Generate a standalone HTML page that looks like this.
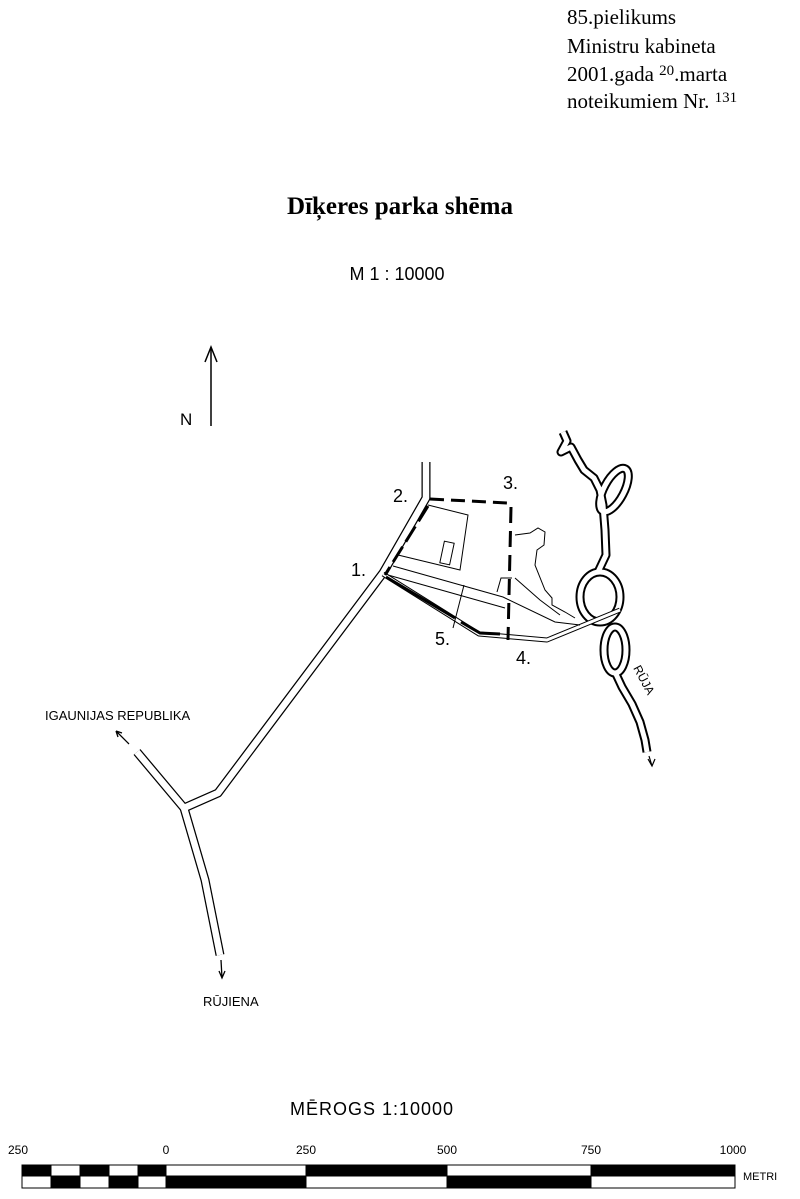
<!DOCTYPE html>
<html><head><meta charset="utf-8"><style>
html,body{margin:0;padding:0;background:#fff}
svg{display:block}
.s{font-family:"Liberation Serif",serif;fill:#000}
.a{font-family:"Liberation Sans","DejaVu Sans",sans-serif;fill:#000}
</style></head><body>
<svg width="800" height="1199" viewBox="0 0 800 1199" xmlns="http://www.w3.org/2000/svg">
<defs>
<g id="riv">
<path d="M563 432 L567 441 L561 452 L571 447 L578 460 L584 470 L594 478 L600 490 L603 505 L605 530 L606 555 L598 572"/>
<ellipse cx="614" cy="490" rx="10" ry="24" transform="rotate(28 614 490)"/>
<ellipse cx="600" cy="597" rx="20" ry="25"/>
<ellipse cx="615" cy="650" rx="11" ry="23"/>
<path d="M615 672 L622 687 L632 704 L640 722 L645 740 L647 752"/>
</g>
</defs>
<text class="s" x="567" y="24" font-size="21">85.pielikums</text>
<text class="s" x="567" y="53" font-size="21">Ministru kabineta</text>
<text class="s" x="567" y="81" font-size="21">2001.gada <tspan font-size="15" dy="-6">20</tspan><tspan dy="6">.marta</tspan></text>
<text class="s" x="567" y="108" font-size="21">noteikumiem Nr. <tspan font-size="15" dy="-6">131</tspan></text>
<text class="s" x="400" y="214" font-size="25" font-weight="bold" text-anchor="middle">Dīķeres parka shēma</text>
<text class="a" x="397" y="280" font-size="18" text-anchor="middle">M 1 : 10000</text>
<line x1="211" y1="348" x2="211" y2="426" stroke="#000" stroke-width="1.5"/>
<path d="M205 362 L211 347 L217 362" fill="none" stroke="#000" stroke-width="1.5"/>
<text class="a" x="180" y="425" font-size="17">N</text>
<g fill="none" stroke-linejoin="round">
<path d="M426 462 L426 498 L383 573 L218 793 L184 808 L137 752" stroke="#000" stroke-width="9"/>
<path d="M184 808 L205 880 L220 955" stroke="#000" stroke-width="9"/>
<path d="M426 462 L426 498 L383 573 L218 793 L184 808 L137 752" stroke="#fff" stroke-width="6.5"/>
<path d="M184 808 L205 880 L220 955" stroke="#fff" stroke-width="6.5"/>
</g>
<path d="M129 744 L116 731 M116 731 l2 6 M116 731 l6 2" stroke="#000" stroke-width="1.3" fill="none"/>
<path d="M221 960 L222 978 M219 971 L222 978 L225 971" stroke="#000" stroke-width="1.3" fill="none"/>
<use href="#riv" fill="none" stroke="#000" stroke-width="9" stroke-linejoin="round"/>
<use href="#riv" fill="none" stroke="#fff" stroke-width="5" stroke-linejoin="round"/>
<path d="M649 756 L652 766 M648 759 L652 766 L655 759" stroke="#000" stroke-width="1.2" fill="none"/>
<text class="a" x="633" y="668" font-size="12" transform="rotate(62 633 668)">RŪJA</text>
<g fill="none" stroke-linejoin="round">
<path d="M383 574 L479 634 L547 640 L620 610" stroke="#000" stroke-width="5"/>
<path d="M383 574 L479 634 L547 640 L620 610" stroke="#fff" stroke-width="3"/>
</g>
<g fill="none" stroke="#000" stroke-width="1">
<path d="M428 505 L468 515 L460 570 L398 555"/>
<path d="M393 566 L503 597 L555 622 L580 625"/>
<path d="M388 575 L505 608"/>
<path d="M464 585 L453 628"/>
<path d="M497 592 L501 578 L512 578"/>
<path d="M515 535 L530 533 L538 528 L545 532 L544 545 L537 550 L535 565 L545 590 L552 598 L552 605 L565 612 L575 618"/>
<path d="M515 578 L540 600 L560 615"/>
<rect x="442" y="542" width="10" height="22" transform="rotate(12 447 553)"/>
</g>
<g fill="none" stroke="#000" stroke-width="3">
<path d="M430 499 L508 503" stroke-dasharray="14 7"/>
<path d="M511 507 L508 640" stroke-dasharray="16 8"/>
<path d="M428 506 L385 575" stroke-dasharray="18 6"/>
<path d="M386 577 L455 618"/>
<path d="M461 622 L480 633 L500 634"/>
</g>
<g class="a" font-size="18">
<text x="393" y="502">2.</text>
<text x="503" y="489">3.</text>
<text x="351" y="576">1.</text>
<text x="435" y="645">5.</text>
<text x="516" y="664">4.</text>
</g>
<text class="a" x="45" y="720" font-size="13">IGAUNIJAS REPUBLIKA</text>
<text class="a" x="203" y="1006" font-size="13">RŪJIENA</text>
<text class="a" x="372" y="1115" font-size="18" text-anchor="middle" letter-spacing="1">MĒROGS 1:10000</text>
<g class="a" font-size="12" text-anchor="middle">
<text x="18" y="1154">250</text><text x="166" y="1154">0</text><text x="306" y="1154">250</text>
<text x="447" y="1154">500</text><text x="591" y="1154">750</text><text x="733" y="1154">1000</text>
</g>
<g stroke="#000" stroke-width="1">
<rect x="22" y="1165" width="713" height="23" fill="#fff"/>
<rect x="22" y="1165" width="29" height="11" fill="#000"/>
<rect x="80" y="1165" width="29" height="11" fill="#000"/>
<rect x="138" y="1165" width="28" height="11" fill="#000"/>
<rect x="51" y="1176" width="29" height="12" fill="#000"/>
<rect x="109" y="1176" width="29" height="12" fill="#000"/>
<rect x="166" y="1176" width="140" height="12" fill="#000"/>
<rect x="306" y="1165" width="141" height="11" fill="#000"/>
<rect x="447" y="1176" width="144" height="12" fill="#000"/>
<rect x="591" y="1165" width="144" height="11" fill="#000"/>
</g>
<text class="a" x="743" y="1180" font-size="11">METRI</text>
</svg>
</body></html>
